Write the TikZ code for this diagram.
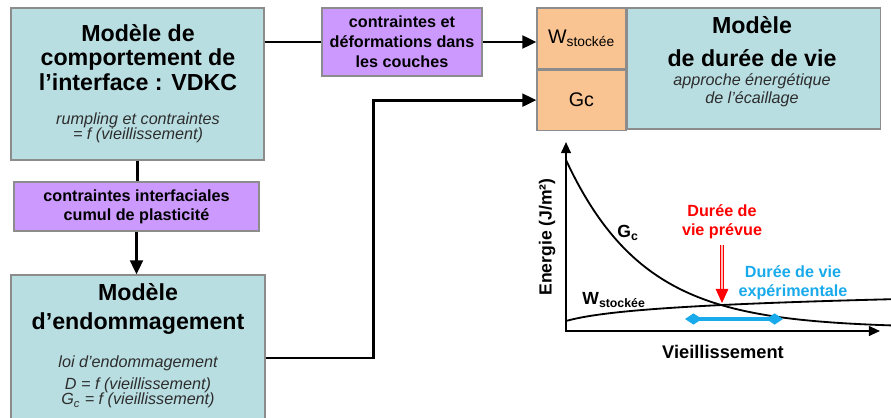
\documentclass[tikz,border=0pt]{standalone}
\usepackage{fontspec}
\setmainfont{Liberation Sans}
\usetikzlibrary{arrows.meta, positioning}

\definecolor{boxteal}{RGB}{185,222,226}
\definecolor{boxlilac}{RGB}{204,153,255}
\definecolor{boxorange}{RGB}{250,196,146}
\definecolor{dureeblue}{RGB}{25,170,235}
\definecolor{notegray}{RGB}{45,45,45}

\begin{document}
\begin{tikzpicture}[
  x=0.025cm, y=-0.025cm,
  model/.style={rectangle, draw=black!45, line width=0.8pt, fill=boxteal, inner sep=0pt},
  link/.style={rectangle, draw=black!45, line width=0.8pt, fill=boxlilac, inner sep=0pt,
    align=center, font=\fontsize{11.5}{13.5}\selectfont\bfseries},
  cell/.style={rectangle, draw=black!45, line width=0.8pt, fill=boxorange, inner sep=0pt,
    minimum width=2.225cm, font=\fontsize{14}{16}\selectfont},
  title/.style={align=center, inner sep=0pt, font=\fontsize{16.5}{17.7}\selectfont\bfseries},
  note/.style={align=center, inner sep=0pt, text=notegray, font=\fontsize{11.5}{10.8}\selectfont\itshape},
  line/.style={line width=2.1pt, black},
  arrow/.style={line, -{Triangle[length=10pt,width=9pt]}},
  axis/.style={line width=1.4pt, {Triangle[length=8pt,width=7pt]}-{Triangle[length=8pt,width=7pt]}},
  curve/.style={line width=1.3pt, black},
  graphlabel/.style={inner sep=0pt, align=center, font=\fontsize{12.5}{13.5}\selectfont\bfseries}
]
\useasboundingbox (0,0) rectangle (891,418);

% Left column: models and exchanged quantities
\node[model, minimum width=6.325cm, minimum height=3.8cm] (vdkc) at (137.5,84) {};
\node[title] (vdkcT) at (138,57.5) {Modèle de\\comportement de\\l’interface : VDKC};
\node[note] (vdkcN) at (138,127.5) {rumpling et contraintes\\= f (vieillissement)};

\node[link, minimum width=6.125cm, minimum height=1.225cm] (inter) at (136.5,206.5)
  {contraintes interfaciales\\cumul de plasticité};

\node[model, minimum width=6.35cm, minimum height=4.15cm] (endo) at (138,358) {};
\node[title, font=\fontsize{16.5}{20}\selectfont\bfseries] (endoT) at (138,309) {Modèle\\d’endommagement};
\node[note] (endoN) at (138,382) {loi d’endommagement\\[5pt]D = f (vieillissement)\\G\textsubscript{c} = f (vieillissement)};

% Top: layer quantities and lifetime model
\node[link, minimum width=4cm, minimum height=1.7cm, font=\fontsize{11.5}{14.2}\selectfont\bfseries] (defo) at (402,42)
  {contraintes et\\déformations dans\\les couches};

\node[cell, minimum height=1.525cm] (wst) at (581.5,38.5) {W\textsubscript{stockée}};
\node[cell, minimum height=1.5cm, below=0pt of wst] (gc) {Gc};
\node[model, minimum width=6.325cm, minimum height=3.025cm, anchor=north west] (life) at (wst.north east) {};
\node[title, font=\fontsize{16.5}{18}\selectfont\bfseries] (lifeT) at (752,41.5) {Modèle\\[5pt]de durée de vie};
\node[note, font=\fontsize{11.5}{12.8}\selectfont\itshape] (lifeN) at (752,90.5) {approche énergétique\\de l’écaillage};

% Connectors
\draw[line] (vdkc.east |- defo.west) -- (defo.west);
\draw[arrow] (defo.east) -- (defo.east -| wst.west);
\draw[line] (vdkc.south) -- (vdkc.south |- inter.north);
\draw[arrow] (inter.south) -- (inter.south |- endo.north);
\draw[arrow] (endo.east) -- ++(108,0) |- (gc.west);

% Energy graph
\coordinate (O) at (566,331);
\coordinate (cross) at (722,303);
\coordinate (expL) at (685,319);
\coordinate (expR) at (783,319);
\draw[axis] (566,142) -- (O) -- (880,331);
\draw[curve] plot[domain=566:891, samples=90, smooth] (\x, {331-3-168*exp(-(\x-566)/78)});
\draw[curve] plot[domain=566:891, samples=90, smooth] (\x, {331-10-9.03*ln(1+(\x-566)/32)});

\node[graphlabel, rotate=90] (energy) at (547,237) {Energie (J/m²)};
\node[graphlabel, font=\fontsize{13}{14}\selectfont\bfseries] (aging) at (723,352) {Vieillissement};
\node[graphlabel] (gclab) at (628,233) {G\textsubscript{c}};
\node[graphlabel] (wlab) at (614,300) {W\textsubscript{stockée}};

\node[graphlabel, text=red, font=\fontsize{11.5}{13.5}\selectfont\bfseries] (prevue) at (722,222) {Durée de\\vie prévue};
\node[graphlabel, text=dureeblue, font=\fontsize{11.5}{13.5}\selectfont\bfseries] (exper) at (793,283) {Durée de vie\\expérimentale};

\draw[draw=red, double=red!25, double distance=2pt, line width=0.6pt, shorten <=4pt,
  -{Triangle[length=10pt,width=9pt,fill=red]}] (prevue.south) -- (cross);
\draw[dureeblue, line width=2.6pt,
  {Diamond[length=12pt,width=8pt]}-{Diamond[length=12pt,width=8pt]}] (expL) -- (expR);

\end{tikzpicture}
\end{document}
